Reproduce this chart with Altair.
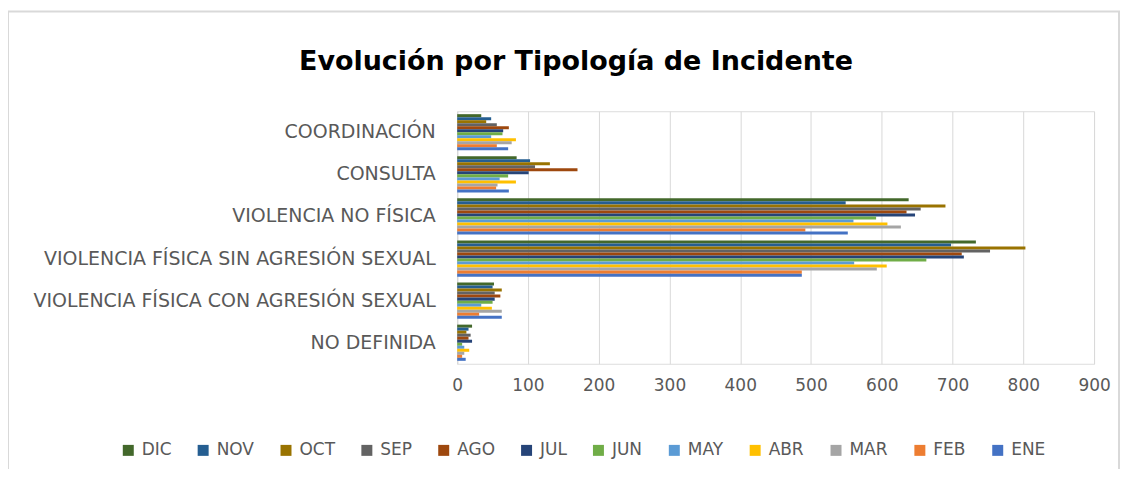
import altair as alt
import pandas as pd

categories = ["COORDINACIÓN", "CONSULTA", "VIOLENCIA NO FÍSICA",
              "VIOLENCIA FÍSICA SIN AGRESIÓN SEXUAL",
              "VIOLENCIA FÍSICA CON AGRESIÓN SEXUAL", "NO DEFINIDA"]
months = ["DIC", "NOV", "OCT", "SEP", "AGO", "JUL", "JUN", "MAY", "ABR", "MAR", "FEB", "ENE"]
colors = ["#43682B", "#255E91", "#997300", "#636363", "#9E480E", "#264478",
          "#70AD47", "#5B9BD5", "#FFC000", "#A5A5A5", "#ED7D31", "#4472C4"]
title_text = ["Evolución por Tipología de Incidente"]

# values per category, in month order DIC ... ENE
coordinacion = [34, 48, 41, 56, 73, 65, 64, 48, 83, 77, 56, 72]
consulta = [84, 103, 131, 110, 170, 101, 72, 60, 83, 57, 55, 73]
violencia_no_fisica = [638, 549, 690, 655, 635, 647, 592, 560, 608, 627, 492, 552]
violencia_sin_agresion = [733, 698, 803, 753, 713, 716, 663, 561, 607, 593, 487, 487]
violencia_con_agresion = [52, 50, 63, 53, 61, 53, 50, 34, 49, 63, 31, 63]
no_definida = [21, 16, 13, 19, 16, 21, 7, 10, 17, 10, 7, 12]

series = [coordinacion, consulta, violencia_no_fisica, violencia_sin_agresion,
          violencia_con_agresion, no_definida]

rows = []
for cat, vals in zip(categories, series):
    for m, v in zip(months, vals):
        rows.append({"categoria": cat, "mes": m, "valor": v})
df = pd.DataFrame(rows)

FONT = "DejaVu Sans"
GREY = "#595959"

bars = alt.Chart(df).mark_bar().encode(
    x=alt.X("valor:Q",
            scale=alt.Scale(domain=[0, 900], nice=False),
            axis=alt.Axis(values=list(range(0, 901, 100)), title=None, domain=False,
                          ticks=False, grid=True, gridColor="#d9d9d9", gridWidth=1,
                          labelFont=FONT, labelFontSize=17, labelColor=GREY,
                          labelPadding=14, labelFlush=False)),
    y=alt.Y("categoria:N", sort=categories,
            scale=alt.Scale(paddingInner=0.14, paddingOuter=0.07),
            axis=alt.Axis(title=None, ticks=False, domain=True, domainColor="#d9d9d9",
                          labelFont=FONT, labelFontSize=19, labelColor=GREY,
                          labelPadding=22, labelLimit=500)),
    yOffset=alt.YOffset("mes:N", sort=months),
    color=alt.Color("mes:N", sort=months,
                    scale=alt.Scale(domain=months, range=colors),
                    legend=alt.Legend(title=None, orient="none", direction="horizontal",
                                      columns=12, legendX=-338, legendY=331,
                                      symbolType="square", symbolSize=121,
                                      symbolStrokeWidth=0, labelFont=FONT,
                                      labelFontSize=17, labelColor=GREY,
                                      columnPadding=23, labelOffset=5)),
)

frame = alt.Chart(pd.DataFrame({"k": [0]})).mark_rect(
    fill=None, stroke="#d9d9d9", strokeWidth=2
).encode(x=alt.value(-450), x2=alt.value(663), y=alt.value(-100), y2=alt.value(420))

title = alt.Chart(pd.DataFrame({"t": title_text})).mark_text(
    font=FONT, fontSize=27, fontWeight="bold", color="#000000",
    align="center", baseline="middle"
).encode(text="t:N", x=alt.value(119), y=alt.value(-49))

chart = alt.layer(frame, bars, title).properties(
    width=638, height=253,
    autosize=alt.AutoSizeParams(type="none"),
    padding={"left": 450, "top": 103, "right": 30, "bottom": 105},
).configure_view(stroke=None).configure(background="white")

chart.save("out.html", embed_options={"renderer": "svg", "actions": False})
